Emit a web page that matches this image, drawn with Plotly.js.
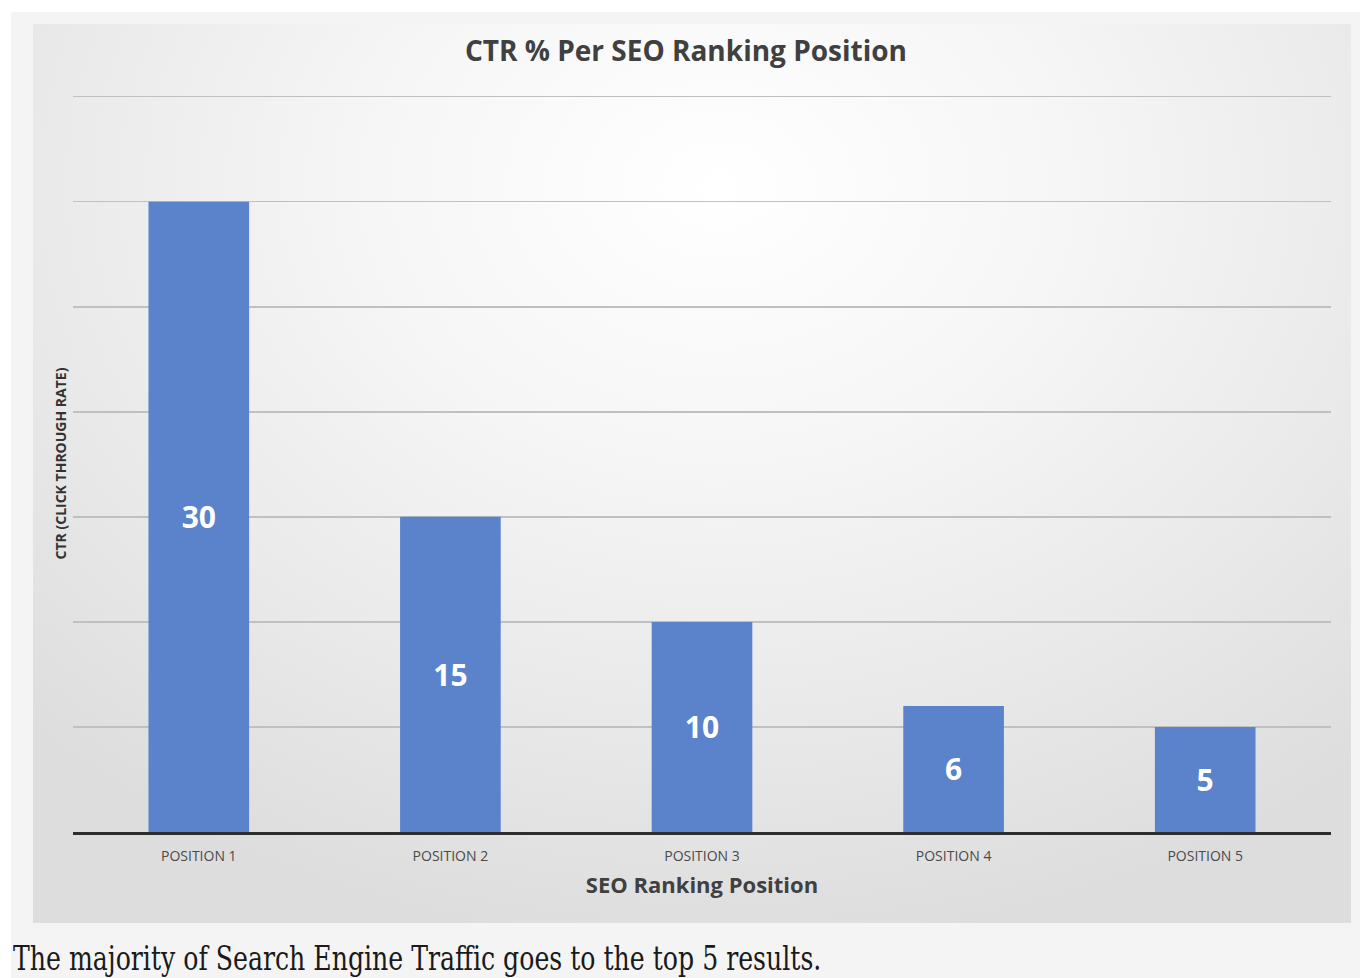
<!DOCTYPE html>
<html>
<head>
<meta charset="utf-8">
<script src="https://cdn.plot.ly/plotly-3.0.1.min.js"></script>
<style>
  html, body { margin: 0; padding: 0; background: #ffffff; width: 1360px; height: 978px; overflow: hidden; }
  #frame { position: absolute; left: 11px; top: 12px; width: 1349px; height: 966px; background: #f4f4f4; }
  #chart { position: absolute; left: 33px; top: 24px; width: 1318px; height: 899px;
    background: radial-gradient(ellipse 75% 85% at 52% 18%, #ffffff 0%, #f6f6f6 35%, #e9e9e9 70%, #dddddd 100%); }
  #caption { position: absolute; left: 13px; top: 939px; font-family: "DejaVu Serif Condensed", "DejaVu Serif", serif;
    font-size: 28px; line-height: 34px; color: #1a1a1a; white-space: nowrap;
    transform: scaleY(1.2); transform-origin: left top; }
</style>
</head>
<body>
<div id="frame"></div>
<div id="chart"></div>
<div id="caption">The majority of Search Engine Traffic goes to the top 5 results.</div>
<script>
const categories = ["POSITION 1", "POSITION 2", "POSITION 3", "POSITION 4", "POSITION 5"];
const ctrValues = [30, 15, 10, 6, 5];
const chartTitle = "CTR % Per SEO Ranking Position";
const xTitle = "SEO Ranking Position";
const yTitle = "CTR (CLICK THROUGH RATE)";

const trace = {
  type: "bar",
  x: categories,
  y: ctrValues,
  text: ctrValues.map(String),
  textposition: "inside",
  insidetextanchor: "middle",
  textangle: 0,
  textfont: { family: "Open Sans", size: 30, color: "#ffffff", weight: 700 },
  marker: { color: "#5a83cb", line: { width: 0 } },
  hoverinfo: "x+y"
};

const layout = {
  width: 1318,
  height: 899,
  paper_bgcolor: "rgba(0,0,0,0)",
  plot_bgcolor: "rgba(0,0,0,0)",
  margin: { l: 40, r: 20, t: 71, b: 91 },
  bargap: 0.6,
  showlegend: false,
  title: {
    text: chartTitle,
    font: { family: "Open Sans", size: 28, color: "#404040", weight: 700 },
    x: 0.4954, xanchor: "center",
    y: 1 - 27 / 899, yanchor: "middle"
  },
  xaxis: {
    type: "category",
    showgrid: false,
    showline: true,
    linecolor: "#2e2e2e",
    linewidth: 3,
    ticks: "",
    ticklabelstandoff: 9,
    tickfont: { family: "Open Sans", size: 14, color: "#4a4a4a" },
    title: { text: xTitle, font: { family: "Open Sans", size: 22, color: "#404040", weight: 700 }, standoff: 14 },
    zeroline: false
  },
  yaxis: {
    range: [0, 35.08],
    dtick: 5,
    showticklabels: false,
    showgrid: true,
    gridcolor: "#c0c0c0",
    gridwidth: 1.5,
    zeroline: false,
    showline: false,
    ticks: "",
    title: { text: yTitle, font: { family: "Open Sans", size: 14, color: "#333333", weight: 700 }, standoff: 2 }
  }
};

Plotly.newPlot("chart", [trace], layout, { displayModeBar: false, staticPlot: true });
</script>
</body>
</html>
